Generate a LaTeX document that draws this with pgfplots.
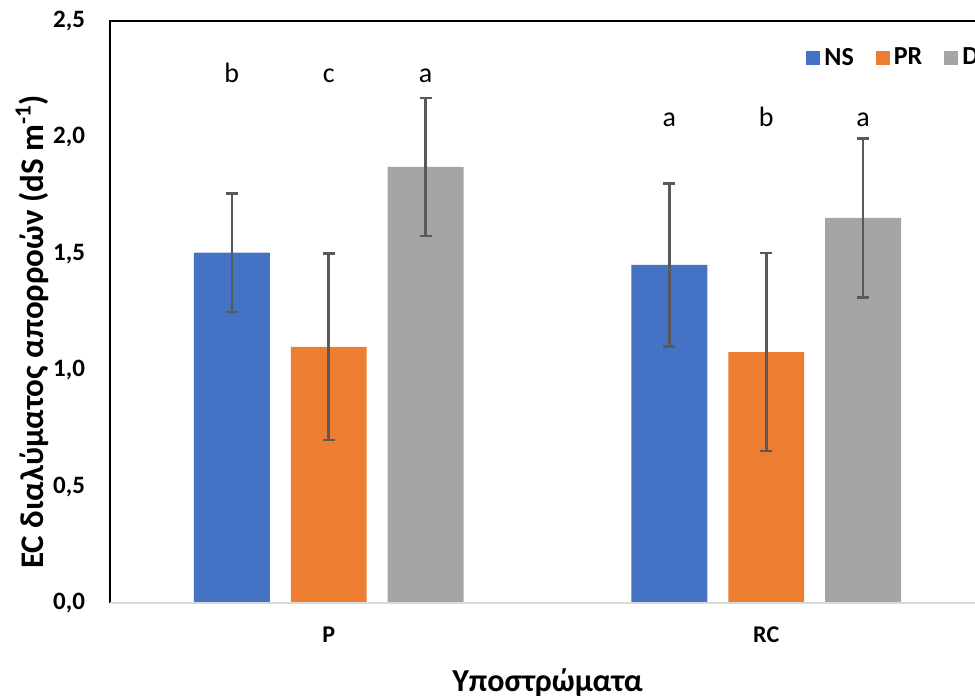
\documentclass[border=0pt]{standalone}
\usepackage{pgfplots}
\pgfplotsset{compat=1.18}
\usepackage{fontspec}
\setmainfont{Carlito}
\definecolor{nsblue}{HTML}{4472C4}
\definecolor{prorange}{HTML}{ED7D31}
\definecolor{dgray}{HTML}{A5A5A5}
\definecolor{errgray}{HTML}{595959}
\definecolor{basegray}{HTML}{D9D9D9}

\pgfplotsset{
  errbars/.style={
    error bars/y dir=both,
    error bars/y explicit,
    error bars/error bar style={errgray, line width=1.3pt},
    error bars/error mark options={errgray, line width=1.3pt, mark size=3pt, rotate=90},
  }
}

\begin{document}
\begin{tikzpicture}
\clip (0,0) rectangle (487.5pt,350pt);
\begin{axis}[
  at={(55pt,48.5pt)}, anchor=south west,
  scale only axis, width=437.5pt, height=291pt,
  ybar, bar width=0.1735,
  xmin=-0.5, xmax=1.5, ymin=0, ymax=2.5,
  xtick={0,1}, xticklabels={P,RC},
  ytick={0,0.5,1,1.5,2,2.5},
  major tick length=0pt,
  axis line style={draw=none},
  clip=false,
  yticklabel style={
    /pgf/number format/fixed,
    /pgf/number format/fixed zerofill,
    /pgf/number format/precision=1,
    /pgf/number format/use comma,
    /pgf/number format/assume math mode=true,
    font=\fontsize{12.5}{14}\selectfont\bfseries, xshift=-9pt},
  xticklabel style={font=\fontsize{12}{14}\selectfont\bfseries, yshift=-8.5pt},
  xlabel={Υποστρώματα},
  xlabel style={font=\fontsize{16}{18}\selectfont\bfseries,
    at={(rel axis cs:0.5,0)}, anchor=center, yshift=-40pt},
  ylabel={EC διαλύματος απορροών (dS m\textsuperscript{-1})},
  ylabel style={font=\fontsize{16.5}{18}\selectfont\bfseries,
    at={(rel axis cs:0,0.466)}, anchor=center, yshift=39pt},
  legend columns=3,
  legend style={at={(rel axis cs:0.7954,0.9364)}, anchor=west, draw=none, fill=none,
    inner sep=0pt, font=\fontsize{13}{15}\selectfont\bfseries,
    /tikz/every even column/.append style={column sep=9pt}},
  legend image code/.code={\fill[#1] (0pt,-3.5pt) rectangle (7pt,3.5pt);},
]
% NS
\addplot[fill=nsblue, draw=none, bar shift=-0.2215, errbars]
  coordinates {(0,1.505) +- (0,0.255) (1,1.452) +- (0,0.350)};
% PR
\addplot[fill=prorange, draw=none, bar shift=0, errbars]
  coordinates {(0,1.100) +- (0,0.400) (1,1.078) +- (0,0.425)};
% D
\addplot[fill=dgray, draw=none, bar shift=0.2215, errbars]
  coordinates {(0,1.873) +- (0,0.297) (1,1.654) +- (0,0.342)};
\legend{NS,PR,D}

% frame: dark left/top/right, light base line
\draw[black, line width=1pt] (rel axis cs:0,0) -- (rel axis cs:0,1) -- (rel axis cs:1,1) -- (rel axis cs:1,0);
\draw[basegray, line width=1pt] (rel axis cs:0,0) -- (rel axis cs:1,0);

% significance letters
\begin{scope}[every node/.style={font=\fontsize{14}{16}\selectfont, anchor=base}]
\node at (axis cs:-0.2215,2.234) {b};
\node at (axis cs:0,2.234) {c};
\node at (axis cs:0.2215,2.234) {a};
\node at (axis cs:0.7785,2.045) {a};
\node at (axis cs:1,2.045) {b};
\node at (axis cs:1.2215,2.045) {a};
\end{scope}
\end{axis}
\end{tikzpicture}
\end{document}
